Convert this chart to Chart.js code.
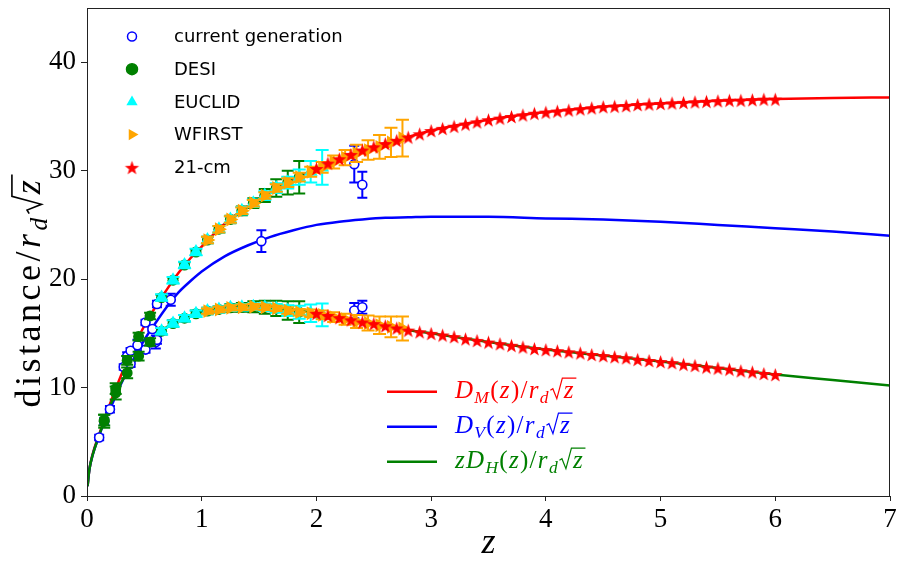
<!DOCTYPE html>
<html>
<head>
<meta charset="utf-8">
<script src="https://cdn.jsdelivr.net/npm/chart.js@4.4.1/dist/chart.umd.min.js"></script>
<style>
  html, body { margin: 0; padding: 0; background: #fff; }
  canvas { display: block; }
</style>
</head>
<body>
<canvas id="grafica" width="898" height="561"></canvas>
<script>
// curvas teoricas
const curveZ  = [0.005, 0.02, 0.05, 0.1, 0.15, 0.2, 0.3, 0.4, 0.5, 0.6, 0.7, 0.8, 0.9, 1.0, 1.2, 1.4, 1.6, 1.8, 2.0, 2.2, 2.4, 2.6, 2.8, 3.0, 3.5, 4.0, 4.5, 5.0, 5.5, 6.0, 6.5, 7.0];
const dmCurve = [0.9, 2.4, 3.9, 5.5, 7.0, 8.5, 11.2, 13.6, 15.7, 17.5, 19.1, 20.6, 21.9, 23.0, 25.1, 26.7, 28.1, 29.2, 30.2, 31.1, 31.9, 32.5, 33.1, 33.7, 34.7, 35.4, 35.9, 36.2, 36.45, 36.6, 36.7, 36.75];
const dvCurve = [0.9, 2.4, 3.8, 5.4, 6.8, 8.0, 10.4, 12.5, 14.4, 16.0, 17.5, 18.8, 19.8, 20.7, 22.1, 23.1, 23.9, 24.5, 25.0, 25.3, 25.5, 25.65, 25.7, 25.75, 25.75, 25.6, 25.5, 25.3, 25.0, 24.7, 24.4, 24.0];
const dhCurve = [0.9, 2.4, 3.8, 5.4, 6.9, 8.3, 10.5, 12.2, 13.6, 14.8, 15.6, 16.2, 16.6, 16.95, 17.3, 17.45, 17.4, 17.15, 16.85, 16.45, 16.05, 15.7, 15.3, 15.0, 14.2, 13.5, 12.95, 12.4, 11.8, 11.2, 10.7, 10.2];

// current generation
const cgZ   = [0.106, 0.15, 0.2, 0.32, 0.35, 0.38, 0.38, 0.44, 0.51, 0.51, 0.57, 0.6, 0.61, 0.61, 0.73, 1.52, 2.33, 2.33, 2.4, 2.4];
const cgY   = [5.4, 6.9, 8.0, 11.9, 12.9, 13.4, 12.2, 13.9, 16.0, 13.5, 15.4, 14.2, 17.7, 14.4, 18.1, 23.5, 30.6, 17.1, 28.7, 17.4];
const cgErr = [0.25, 0.3, 0.3, 0.25, 0.35, 0.25, 0.3, 0.5, 0.25, 0.3, 0.2, 0.6, 0.3, 0.35, 0.55, 1.0, 1.7, 0.7, 1.2, 0.6];

// DESI
const desiZ     = [0.15, 0.25, 0.35, 0.45, 0.55, 0.65, 0.75, 0.85, 0.95, 1.05, 1.15, 1.25, 1.35, 1.45, 1.55, 1.65, 1.75, 1.85];
const desiDM    = [7.0, 9.9, 12.5, 14.7, 16.6, 18.3, 19.9, 21.3, 22.5, 23.6, 24.6, 25.5, 26.3, 27.0, 27.7, 28.4, 28.9, 29.4];
const desiDMErr = [0.5, 0.5, 0.4, 0.35, 0.3, 0.25, 0.25, 0.25, 0.25, 0.3, 0.3, 0.35, 0.4, 0.45, 0.6, 0.8, 1.1, 1.5];
const desiDH    = [6.9, 9.5, 11.35, 12.9, 14.2, 15.2, 15.9, 16.4, 16.8, 17.05, 17.2, 17.35, 17.4, 17.45, 17.4, 17.3, 17.1, 16.95];
const desiDHErr = [0.6, 0.6, 0.5, 0.4, 0.35, 0.3, 0.3, 0.3, 0.3, 0.3, 0.3, 0.35, 0.4, 0.5, 0.6, 0.7, 0.85, 1.0];

// EUCLID
const euclidZ     = [0.65, 0.75, 0.85, 0.95, 1.05, 1.15, 1.25, 1.35, 1.45, 1.55, 1.65, 1.75, 1.85, 1.95, 2.05];
const euclidDM    = [18.3, 19.9, 21.3, 22.5, 23.6, 24.6, 25.5, 26.3, 27.0, 27.7, 28.4, 28.9, 29.4, 29.9, 30.3];
const euclidDMErr = [0.3, 0.3, 0.3, 0.3, 0.3, 0.3, 0.3, 0.35, 0.35, 0.4, 0.45, 0.55, 0.7, 1.0, 1.6];
const euclidDH    = [15.2, 15.9, 16.4, 16.8, 17.05, 17.2, 17.35, 17.4, 17.45, 17.4, 17.3, 17.1, 16.95, 16.85, 16.7];
const euclidDHErr = [0.3, 0.3, 0.3, 0.3, 0.3, 0.3, 0.3, 0.3, 0.3, 0.35, 0.4, 0.5, 0.6, 0.8, 1.05];

// WFIRST
const wfirstZ     = [1.05, 1.15, 1.25, 1.35, 1.45, 1.55, 1.65, 1.75, 1.85, 1.95, 2.05, 2.15, 2.25, 2.35, 2.45, 2.55, 2.65, 2.75];
const wfirstDM    = [23.6, 24.6, 25.5, 26.3, 27.0, 27.7, 28.4, 28.9, 29.4, 29.9, 30.3, 30.8, 31.2, 31.6, 31.9, 32.2, 32.6, 33.0];
const wfirstDMErr = [0.3, 0.3, 0.3, 0.3, 0.3, 0.3, 0.35, 0.4, 0.4, 0.45, 0.5, 0.6, 0.7, 0.8, 0.9, 1.1, 1.35, 1.7];
const wfirstDH    = [17.05, 17.2, 17.35, 17.4, 17.45, 17.4, 17.3, 17.1, 16.95, 16.85, 16.7, 16.5, 16.3, 16.1, 15.95, 15.75, 15.6, 15.45];
const wfirstDHErr = [0.25, 0.25, 0.25, 0.25, 0.25, 0.25, 0.25, 0.3, 0.3, 0.35, 0.4, 0.45, 0.5, 0.6, 0.7, 0.8, 0.95, 1.1];

// 21-cm
const cmZ  = [2.0, 2.1, 2.2, 2.3, 2.4, 2.5, 2.6, 2.7, 2.8, 2.9, 3.0, 3.1, 3.2, 3.3, 3.4, 3.5, 3.6, 3.7, 3.8, 3.9, 4.0, 4.1, 4.2, 4.3, 4.4, 4.5, 4.6, 4.7, 4.8, 4.9, 5.0, 5.1, 5.2, 5.3, 5.4, 5.5, 5.6, 5.7, 5.8, 5.9, 6.0];
const cmDM = [30.2, 30.7, 31.1, 31.5, 31.9, 32.2, 32.5, 32.8, 33.1, 33.4, 33.7, 33.9, 34.1, 34.3, 34.5, 34.7, 34.85, 35.0, 35.15, 35.3, 35.4, 35.5, 35.6, 35.7, 35.8, 35.9, 35.95, 36.0, 36.1, 36.15, 36.2, 36.25, 36.3, 36.35, 36.4, 36.45, 36.5, 36.5, 36.55, 36.6, 36.6];
const cmDH = [16.85, 16.65, 16.45, 16.25, 16.05, 15.9, 15.7, 15.5, 15.3, 15.15, 15.0, 14.85, 14.7, 14.5, 14.35, 14.2, 14.05, 13.9, 13.75, 13.6, 13.5, 13.4, 13.3, 13.2, 13.05, 12.95, 12.85, 12.75, 12.6, 12.5, 12.4, 12.3, 12.15, 12.05, 11.9, 11.8, 11.7, 11.55, 11.45, 11.3, 11.2];

const xTicks = [0, 1, 2, 3, 4, 5, 6, 7];
const yTicks = [0, 10, 20, 30, 40];

const SERIF = '"Liberation Serif", "DejaVu Serif", serif';

function pts(zs, ys) {
  return zs.map((z, i) => ({x: z, y: ys[i]}));
}

// estrella rellena de 5 puntas
function starImage(r, color) {
  const c = document.createElement('canvas');
  const s = Math.ceil(2 * r + 2);
  c.width = s; c.height = s;
  const g = c.getContext('2d');
  g.fillStyle = color;
  g.beginPath();
  for (let k = 0; k < 10; k++) {
    const rr = k % 2 ? r * 0.4 : r;
    const a = -Math.PI / 2 + k * Math.PI / 5;
    const px = s / 2 + rr * Math.cos(a), py = s / 2 + 1 + rr * Math.sin(a);
    if (k) g.lineTo(px, py); else g.moveTo(px, py);
  }
  g.closePath();
  g.fill();
  return c;
}
const star = starImage(7.5, '#ff0000');

// barras de error
const errorBars = {
  id: 'errorBars',
  beforeDatasetDraw(chart, args) {
    const ds = chart.data.datasets[args.index];
    if (!ds.errors) return;
    const ys = chart.scales.y, ctx = chart.ctx;
    const cap = ds.capSize;
    ctx.save();
    ctx.strokeStyle = ds.errColor;
    ctx.lineWidth = 2;
    args.meta.data.forEach((p, i) => {
      const v = ds.data[i].y, e = ds.errors[i];
      const top = ys.getPixelForValue(v + e), bot = ys.getPixelForValue(v - e);
      ctx.beginPath();
      ctx.moveTo(p.x, top); ctx.lineTo(p.x, bot);
      ctx.moveTo(p.x - cap, top); ctx.lineTo(p.x + cap, top);
      ctx.moveTo(p.x - cap, bot); ctx.lineTo(p.x + cap, bot);
      ctx.stroke();
    });
    ctx.restore();
  }
};

// texto matematico simple
function drawMath(ctx, parts, x, base, size, dry) {
  for (const p of parts) {
    const s = p.sub ? size * 0.7 : size;
    ctx.font = (p.it ? 'italic ' : '') + s + 'px ' + SERIF;
    const w = ctx.measureText(p.t).width;
    if (p.root) {
      if (!dry) {
        ctx.lineWidth = Math.max(1.2, size * 0.045);
        ctx.beginPath();
        ctx.moveTo(x + size * 0.02, base - size * 0.30);
        ctx.lineTo(x + size * 0.12, base - size * 0.36);
        ctx.lineTo(x + size * 0.28, base + size * 0.04);
        ctx.lineTo(x + size * 0.50, base - size * 0.78);
        ctx.lineTo(x + size * 0.58 + w + size * 0.04, base - size * 0.78);
        ctx.stroke();
        ctx.fillText(p.t, x + size * 0.56, base);
      }
      x += size * 0.58 + w + size * 0.04;
    } else {
      if (!dry) ctx.fillText(p.t, x, base + (p.sub ? size * 0.2 : 0));
      x += w + (p.gap || 0);
    }
  }
  return x;
}

const tail = [{t: '('}, {t: 'z', it: true}, {t: ')'}, {t: '/'}, {t: 'r', it: true}, {t: 'd', it: true, sub: true}, {t: 'z', it: true, root: true}];
const lineLegend = [
  {color: '#ff0000', parts: [{t: 'D', it: true}, {t: 'M', it: true, sub: true}].concat(tail)},
  {color: '#0000ff', parts: [{t: 'D', it: true}, {t: 'V', it: true, sub: true}].concat(tail)},
  {color: '#008000', parts: [{t: 'z', it: true}, {t: 'D', it: true}, {t: 'H', it: true, sub: true}].concat(tail)}
];

const decor = {
  id: 'decor',
  afterDraw(chart) {
    const ctx = chart.ctx, a = chart.chartArea;
    ctx.save();
    // marco
    ctx.strokeStyle = '#222';
    ctx.lineWidth = 1;
    ctx.strokeRect(a.left + 0.5, a.top + 0.5, a.right - a.left - 1, a.bottom - a.top);

    // leyenda de marcadores
    const items = chart.data.datasets.filter(d => d.legendShape);
    items.forEach((d, i) => {
      const x = a.left + 45, y = a.top + 28.5 + i * 32.7;
      ctx.fillStyle = d.pointBackgroundColor;
      ctx.strokeStyle = d.pointBorderColor;
      ctx.lineWidth = 1.5;
      if (d.legendShape === 'circle') {
        ctx.beginPath(); ctx.arc(x, y, d.pointRadius, 0, Math.PI * 2);
        ctx.fill(); ctx.stroke();
      } else if (d.legendShape === 'triangle') {
        const r = 6.5, rot = (d.pointRotation || 0) * Math.PI / 180;
        ctx.beginPath();
        for (let k = 0; k < 3; k++) {
          const ang = rot + k * 2 * Math.PI / 3;
          const px = x + Math.sin(ang) * r, py = y - Math.cos(ang) * r;
          if (k) ctx.lineTo(px, py); else ctx.moveTo(px, py);
        }
        ctx.closePath(); ctx.fill();
      } else {
        ctx.drawImage(star, x - star.width / 2, y - star.height / 2);
      }
      ctx.fillStyle = '#000';
      ctx.font = '18px "DejaVu Sans"';
      ctx.textBaseline = 'middle';
      ctx.textAlign = 'left';
      ctx.fillText(d.label, a.left + 87, y + 1);
    });

    // leyenda de curvas
    ctx.textBaseline = 'alphabetic';
    ctx.letterSpacing = '1.3px';
    lineLegend.forEach((l, i) => {
      const y = 391.7 + i * 35;
      ctx.strokeStyle = l.color;
      ctx.lineWidth = 2.5;
      ctx.beginPath(); ctx.moveTo(387, y); ctx.lineTo(437, y); ctx.stroke();
      ctx.fillStyle = l.color;
      drawMath(ctx, l.parts, 455, y + 6, 25);
    });

    // titulos de ejes
    ctx.letterSpacing = '0px';
    ctx.fillStyle = '#000';
    ctx.strokeStyle = '#000';
    ctx.font = 'italic 36px ' + SERIF;
    ctx.textAlign = 'center';
    ctx.fillText('z', (a.left + a.right) / 2, 553);
    ctx.textAlign = 'left';
    ctx.letterSpacing = '3.5px';
    const yParts = [{t: 'distance'}, {t: '/'}, {t: 'r', it: true}, {t: 'd', it: true, sub: true}, {t: 'z', it: true, root: true}];
    const w = drawMath(ctx, yParts, 0, 0, 36, true);
    ctx.translate(40, 291);
    ctx.rotate(-Math.PI / 2);
    drawMath(ctx, yParts, -w / 2, 0, 36);
    ctx.restore();
  }
};

// sin relleno extra de las escalas: el area queda fija
function fixPadding(s) {
  s.paddingTop = 0; s.paddingBottom = 0; s.paddingLeft = 0; s.paddingRight = 0;
}

const ctx = document.getElementById('grafica').getContext('2d');

new Chart(ctx, {
  type: 'scatter',
  data: {
    datasets: [
      {
        label: 'curveDM', data: pts(curveZ, dmCurve), showLine: true, pointRadius: 0,
        borderColor: '#ff0000', borderWidth: 2.5, cubicInterpolationMode: 'monotone', order: 8
      },
      {
        label: 'curveDV', data: pts(curveZ, dvCurve), showLine: true, pointRadius: 0,
        borderColor: '#0000ff', borderWidth: 2.5, cubicInterpolationMode: 'monotone', order: 7
      },
      {
        label: 'curveDH', data: pts(curveZ, dhCurve), showLine: true, pointRadius: 0,
        borderColor: '#008000', borderWidth: 2.5, cubicInterpolationMode: 'monotone', order: 6
      },
      {
        label: 'current generation', legendShape: 'circle',
        data: pts(cgZ, cgY), errors: cgErr, errColor: '#0000ff', capSize: 5,
        pointStyle: 'circle', pointRadius: 4.5, pointBorderWidth: 1.6,
        pointBackgroundColor: '#ffffff', pointBorderColor: '#0000ff', order: 5
      },
      {
        label: 'DESI', legendShape: 'circle',
        data: pts(desiZ, desiDM).concat(pts(desiZ, desiDH)), errors: desiDMErr.concat(desiDHErr),
        errColor: '#008000', capSize: 6,
        pointStyle: 'circle', pointRadius: 5.5, pointBorderWidth: 0,
        pointBackgroundColor: '#008000', pointBorderColor: '#008000', order: 4
      },
      {
        label: 'EUCLID', legendShape: 'triangle',
        data: pts(euclidZ, euclidDM).concat(pts(euclidZ, euclidDH)), errors: euclidDMErr.concat(euclidDHErr),
        errColor: '#00ffff', capSize: 6.5,
        pointStyle: 'triangle', pointRadius: 8, pointBorderWidth: 0,
        pointBackgroundColor: '#00ffff', pointBorderColor: '#00ffff', order: 3
      },
      {
        label: 'WFIRST', legendShape: 'triangle',
        data: pts(wfirstZ, wfirstDM).concat(pts(wfirstZ, wfirstDH)), errors: wfirstDMErr.concat(wfirstDHErr),
        errColor: '#ffa500', capSize: 6.5,
        pointStyle: 'triangle', pointRotation: 90, pointRadius: 8, pointBorderWidth: 0,
        pointBackgroundColor: '#ffa500', pointBorderColor: '#ffa500', order: 2
      },
      {
        label: '21-cm', legendShape: 'star',
        data: pts(cmZ, cmDM).concat(pts(cmZ, cmDH)),
        pointStyle: star, pointRadius: 7,
        pointBackgroundColor: '#ff0000', pointBorderColor: '#ff0000', order: 1
      }
    ]
  },
  options: {
    responsive: false,
    animation: false,
    layout: { padding: { top: 6, right: 5, left: 0, bottom: 0 } },
    plugins: { legend: { display: false }, tooltip: { enabled: false } },
    scales: {
      x: {
        type: 'linear', min: 0, max: 7,
        afterBuildTicks: s => { s.ticks = xTicks.map(v => ({value: v})); },
        afterFit: s => { s.height = 65; fixPadding(s); },
        ticks: { font: { family: SERIF, size: 27 }, color: '#000', padding: 3, maxRotation: 0 },
        grid: { drawOnChartArea: false, tickLength: 5, color: '#222', tickColor: '#222' },
        border: { color: '#222', width: 1 }
      },
      y: {
        type: 'linear', min: 0, max: 45,
        afterBuildTicks: s => { s.ticks = yTicks.map(v => ({value: v})); },
        afterFit: s => { s.width = 87; fixPadding(s); },
        ticks: { font: { family: SERIF, size: 27 }, color: '#000', padding: 5 },
        grid: { drawOnChartArea: false, tickLength: 6, color: '#222', tickColor: '#222' },
        border: { color: '#222', width: 1 }
      }
    }
  },
  plugins: [errorBars, decor]
});
</script>
</body>
</html>
